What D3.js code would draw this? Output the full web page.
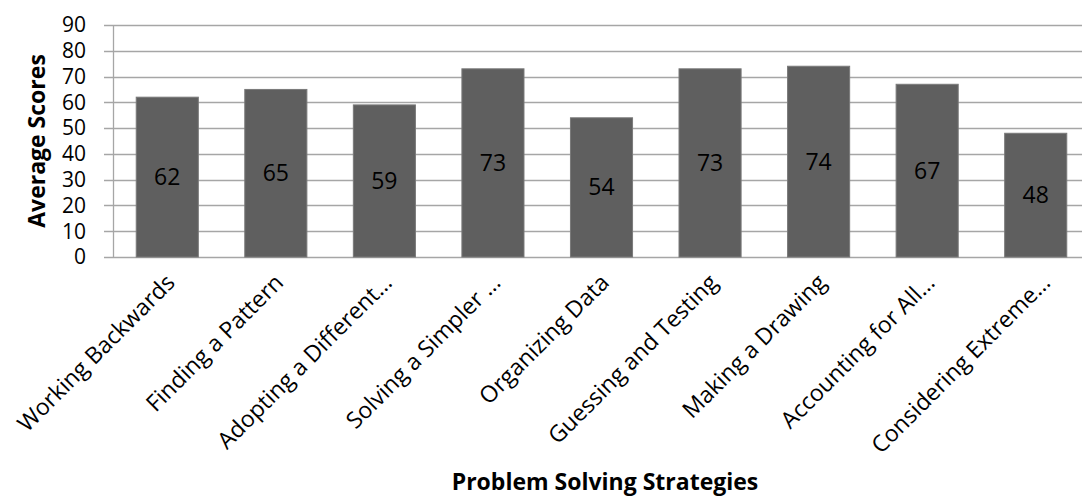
<!DOCTYPE html>
<html>
<head>
<meta charset="utf-8">
<script src="https://cdn.jsdelivr.net/npm/d3@7"></script>
<style>
  body { margin: 0; background: #fff; }
  text { font-family: "Open Sans", sans-serif; fill: #000; }
  .grid line { stroke: #a6a6a6; stroke-width: 1.3; }
  .bar { fill: #5f5f5f; stroke: #7a7a7a; stroke-width: 1; }
</style>
</head>
<body>
<script>
/*
DATA
*/
const strategies = ["Working Backwards", "Finding a Pattern", "Adopting a Different…",
  "Solving a Simpler …", "Organizing Data", "Guessing and Testing",
  "Making a Drawing", "Accounting for All…", "Considering Extreme…"]
const scores = [62, 65, 59, 73, 54, 73, 74, 67, 48]
const yTicks = [0, 10, 20, 30, 40, 50, 60, 70, 80, 90]

/*
SET UP
*/
const w = 1082
const h = 496
const m = ({top: 25, right: -8, bottom: 239, left: 113})

const svg = d3.select("body")
  .append("svg")
  .attr("width", w)
  .attr("height", h);

let x = d3.scaleBand()
  .domain(strategies)
  .range([m.left, w - m.right]);

let y = d3.scaleLinear()
  .domain([0, 90])
  .range([h - m.bottom, m.top]);

const barW = x.bandwidth() * 0.572

// gridlines + tick marks (they stick out left of the axis)
svg.append("g")
  .attr("class", "grid")
  .selectAll("line")
  .data(yTicks)
  .join("line")
  .attr("x1", m.left - 9)
  .attr("x2", w - m.right)
  .attr("y1", (d) => Math.round(y(d)) + 0.5)
  .attr("y2", (d) => Math.round(y(d)) + 0.5);

// y axis line
svg.append("line")
  .attr("x1", m.left + 0.5)
  .attr("x2", m.left + 0.5)
  .attr("y1", y(90))
  .attr("y2", y(0))
  .attr("stroke", "#a6a6a6")
  .attr("stroke-width", 1.3);

// y tick labels
svg.selectAll(".ytick")
  .data(yTicks)
  .join("text")
  .attr("class", "ytick")
  .attr("x", 86)
  .attr("y", (d) => y(d))
  .attr("dy", "0.35em")
  .attr("text-anchor", "end")
  .style("font-size", "21px")
  .text((d) => d);

// bars
svg.selectAll(".bar")
  .data(scores)
  .join("rect")
  .attr("class", "bar")
  .attr("x", (d, i) => x(strategies[i]) + (x.bandwidth() - barW) / 2)
  .attr("y", (d) => y(d))
  .attr("width", barW)
  .attr("height", (d) => y(0) - y(d));

// value labels in the middle of each bar
svg.selectAll(".val")
  .data(scores)
  .join("text")
  .attr("class", "val")
  .attr("x", (d, i) => x(strategies[i]) + x.bandwidth() / 2)
  .attr("y", (d) => (y(d) + y(0)) / 2)
  .attr("dy", "0.35em")
  .attr("text-anchor", "middle")
  .style("font-size", "23px")
  .text((d) => d);

// rotated category labels
svg.selectAll(".xlab")
  .data(strategies)
  .join("text")
  .attr("class", "xlab")
  .attr("text-anchor", "end")
  .attr("transform", (d, i) => `translate(${x(d) + x.bandwidth() / 2 + (i === 8 ? 16 : 9)}, 284) rotate(-45)`)
  .style("font-size", "23px")
  .text((d) => d);

// axis titles
svg.append("text")
  .attr("transform", "translate(45, 141) rotate(-90)")
  .attr("text-anchor", "middle")
  .style("font-size", "23px")
  .style("font-weight", "bold")
  .text("Average Scores");

svg.append("text")
  .attr("x", 605)
  .attr("y", 490)
  .attr("text-anchor", "middle")
  .style("font-size", "23px")
  .style("font-weight", "bold")
  .text("Problem Solving Strategies");
</script>
</body>
</html>
